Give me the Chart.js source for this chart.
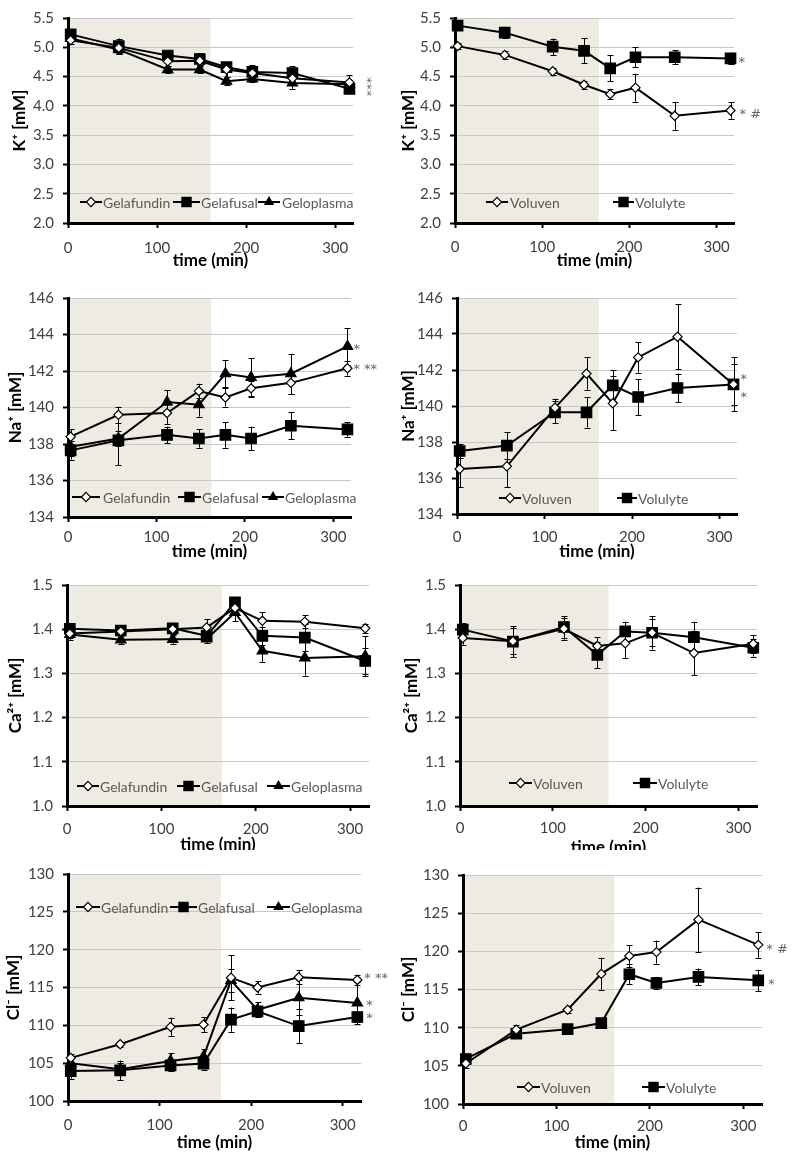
<!DOCTYPE html>
<html><head><meta charset="utf-8">
<script src="https://cdn.jsdelivr.net/npm/chart.js@4.4.1/dist/chart.umd.min.js"></script>
<style>
html,body{margin:0;padding:0;background:#fff;}
#wrap{position:relative;width:796px;height:1160px;overflow:hidden;background:#fff;}
canvas{position:absolute;}
</style></head><body><div id="wrap"></div>
<script>
// ---------- DATA ----------
const times = [3, 57, 112, 148, 178, 207, 252, 316];
const xTicks = ['0', '100', '200', '300'];

const kTicks  = ['2.0','2.5','3.0','3.5','4.0','4.5','5.0','5.5'];
const naTicks = ['134','136','138','140','142','144','146'];
const caTicks = ['1.0','1.1','1.2','1.3','1.4','1.5'];
const clTicks = ['100','105','110','115','120','125','130'];

// K+
const kGelafundin    = [5.12, 4.99, 4.76, 4.77, 4.62, 4.56, 4.47, 4.40];
const kGelafundinErr = [0.06, 0.10, 0.08, 0.08, 0.12, 0.10, 0.08, 0.12];
const kGelafusal     = [5.22, 5.02, 4.86, 4.80, 4.66, 4.58, 4.56, 4.29];
const kGelafusalErr  = [0.05, 0.13, 0.05, 0.10, 0.08, 0.12, 0.12, 0.06];
const kGeloplasma    = [5.15, 4.96, 4.62, 4.62, 4.42, 4.46, 4.39, 4.37];
const kGeloplasmaErr = [0.05, 0.06, 0.06, 0.06, 0.07, 0.06, 0.10, 0.07];
const kVoluven       = [5.02, 4.87, 4.59, 4.36, 4.20, 4.31, 3.83, 3.92];
const kVoluvenErr    = [0.05, 0.07, 0.06, 0.07, 0.09, 0.24, 0.24, 0.14];
const kVolulyte      = [5.37, 5.25, 5.01, 4.94, 4.64, 4.83, 4.83, 4.81];
const kVolulyteErr   = [0.08, 0.10, 0.14, 0.21, 0.22, 0.17, 0.12, 0.10];

// Na+
const naGelafundin    = [138.4, 139.6, 139.7, 140.9, 140.55, 141.05, 141.35, 142.15];
const naGelafundinErr = [0.4, 0.45, 0.6, 0.4, 0.5, 0.4, 0.6, 0.4];
const naGelafusal     = [137.65, 138.2, 138.5, 138.3, 138.5, 138.3, 139.0, 138.8];
const naGelafusalErr  = [0.5, 1.35, 0.45, 0.5, 0.7, 0.65, 0.75, 0.4];
const naGeloplasma    = [137.85, 138.3, 140.3, 140.15, 141.85, 141.65, 141.85, 143.35];
const naGeloplasmaErr = [0.5, 0.4, 0.65, 0.65, 0.75, 1.05, 1.1, 1.0];
const naVoluven       = [136.5, 136.65, 139.9, 141.8, 140.15, 142.7, 143.85, 141.2];
const naVoluvenErr    = [1.0, 1.15, 0.5, 0.9, 1.5, 0.85, 1.8, 1.15];
const naVolulyte      = [137.5, 137.8, 139.65, 139.65, 141.15, 140.5, 141.0, 141.2];
const naVolulyteErr   = [0.4, 0.75, 0.6, 0.85, 0.85, 1.0, 0.8, 1.5];

// Ca2+
const caGelafundin    = [1.390, 1.395, 1.400, 1.404, 1.448, 1.419, 1.417, 1.402];
const caGelafundinErr = [0.010, 0.010, 0.010, 0.018, 0.015, 0.020, 0.015, 0.010];
const caGelafusal     = [1.401, 1.397, 1.402, 1.385, 1.461, 1.385, 1.381, 1.328];
const caGelafusalErr  = [0.010, 0.010, 0.010, 0.010, 0.010, 0.020, 0.030, 0.030];
const caGeloplasma    = [1.388, 1.376, 1.377, 1.378, 1.438, 1.351, 1.335, 1.339];
const caGeloplasmaErr = [0.012, 0.010, 0.010, 0.010, 0.020, 0.025, 0.040, 0.045];
const caVoluven       = [1.380, 1.373, 1.401, 1.362, 1.368, 1.392, 1.346, 1.367];
const caVoluvenErr    = [0.015, 0.030, 0.025, 0.020, 0.033, 0.030, 0.050, 0.020];
const caVolulyte      = [1.399, 1.372, 1.405, 1.342, 1.395, 1.392, 1.382, 1.358];
const caVolulyteErr   = [0.015, 0.035, 0.025, 0.030, 0.022, 0.038, 0.035, 0.020];

// Cl-
const clGelafundin    = [105.7, 107.5, 109.8, 110.1, 116.3, 115.0, 116.35, 116.0];
const clGelafundinErr = [0.5, 0.3, 1.2, 1.0, 3.0, 0.8, 0.9, 0.7];
const clGelafusal     = [103.95, 104.05, 104.7, 104.95, 110.75, 111.85, 109.9, 111.1];
const clGelafusalErr  = [1.0, 1.3, 0.7, 0.8, 1.6, 0.6, 2.3, 0.6];
const clGeloplasma    = [105.0, 104.2, 105.3, 105.85, 115.95, 112.05, 113.65, 112.95];
const clGeloplasmaErr = [0.8, 0.8, 1.0, 1.0, 1.5, 1.0, 2.3, 2.8];
const clVoluven       = [105.3, 109.75, 112.35, 117.05, 119.4, 119.9, 124.15, 120.85];
const clVoluvenErr    = [0.6, 0.6, 0.4, 2.1, 1.4, 1.5, 4.2, 1.7];
const clVolulyte      = [105.9, 109.2, 109.8, 110.6, 117.0, 115.85, 116.65, 116.2];
const clVolulyteErr   = [0.3, 0.3, 0.3, 0.3, 1.3, 0.8, 1.1, 1.4];

const gelNames = ['Gelafundin', 'Gelafusal', 'Geloplasma'];
const hesNames = ['Voluven', 'Volulyte'];

// ---------- STYLE ----------
const FONT = "Lato, 'Open Sans', 'DejaVu Sans', sans-serif";
const NOTE_FONT = "'DejaVu Sans', sans-serif";
Chart.defaults.font.family = FONT;
const SHADE = '#eeebe2';
const markerStyles = {
  diamond:  {pointStyle:'rectRot',  pointRadius:4.6, bg:'#ffffff'},
  square:   {pointStyle:'rect',     pointRadius:7.4, bg:'#000000'},
  triangle: {pointStyle:'triangle', pointRadius:6.0, bg:'#000000'}
};
const gelMarkers = ['diamond', 'square', 'triangle'];
const hesMarkers = ['diamond', 'square'];

function drawMarker(ctx, kind, x, y) {
  ctx.save();
  ctx.lineWidth = 1.2; ctx.strokeStyle = '#000';
  ctx.beginPath();
  if (kind === 'diamond') {
    const r = markerStyles.diamond.pointRadius;
    ctx.moveTo(x, y - r); ctx.lineTo(x + r, y); ctx.lineTo(x, y + r); ctx.lineTo(x - r, y); ctx.closePath();
    ctx.fillStyle = '#fff'; ctx.fill(); ctx.stroke();
  } else if (kind === 'square') {
    const s = markerStyles.square.pointRadius * Math.SQRT1_2;
    ctx.rect(x - s, y - s, 2 * s, 2 * s);
    ctx.fillStyle = '#000'; ctx.fill();
  } else {
    const r = markerStyles.triangle.pointRadius;
    ctx.moveTo(x, y - r);
    ctx.lineTo(x + r * Math.sin(2 * Math.PI / 3), y - r * Math.cos(2 * Math.PI / 3));
    ctx.lineTo(x + r * Math.sin(4 * Math.PI / 3), y - r * Math.cos(4 * Math.PI / 3));
    ctx.closePath(); ctx.fillStyle = '#000'; ctx.fill();
  }
  ctx.restore();
}

// ---------- PANELS ----------
const panels = [
  {box:[0,0,398,280], area:[68,15,353,223], ymin:2, ymax:5.5, step:0.5, ticks:kTicks, ytitle:'K\u207A [mM]',
   ytx:20, xly:248, xty:260.5, shade:160,
   names:gelNames, markers:gelMarkers, vals:[kGelafundin,kGelafusal,kGeloplasma], errs:[kGelafundinErr,kGelafusalErr,kGeloplasmaErr],
   legend:{y:202, items:[[80,102,103],[173,200,201],[258,280,282]]},
   notes:[{text:'***', ds:1, dx:17, dy:-2, rot:true}]},
  {box:[398,0,398,280], area:[455,17,734,223], ymin:2, ymax:5.5, step:0.5, ticks:kTicks, ytitle:'K\u207A [mM]',
   ytx:408, xly:247, xty:260.5, shade:165,
   names:hesNames, markers:hesMarkers, vals:[kVoluven,kVolulyte], errs:[kVoluvenErr,kVolulyteErr],
   legend:{y:202, items:[[486,508,510],[613,634,635]]},
   notes:[{text:'*', ds:1, dx:8, dy:4}, {text:'* #', ds:0, dx:9, dy:4}]},
  {box:[0,280,398,280], area:[68,295,351,517], ymin:134, ymax:146, step:2, ticks:naTicks, ytitle:'Na\u207A [mM]',
   ytx:16, xly:537, xty:552, shade:162,
   names:gelNames, markers:gelMarkers, vals:[naGelafundin,naGelafusal,naGeloplasma], errs:[naGelafundinErr,naGelafusalErr,naGeloplasmaErr],
   legend:{y:497, items:[[72,100,103],[178,201,202],[262,284,285]]},
   notes:[{text:'*', ds:2, dx:6, dy:3}, {text:'* **', ds:0, dx:6, dy:1}]},
  {box:[398,280,398,280], area:[457,294,737,514], ymin:134, ymax:146, step:2, ticks:naTicks, ytitle:'Na\u207A [mM]',
   ytx:406, xly:537, xty:552, shade:162,
   names:hesNames, markers:hesMarkers, vals:[naVoluven,naVolulyte], errs:[naVoluvenErr,naVolulyteErr],
   legend:{y:498, items:[[499,521,522],[617,637,638]]},
   notes:[{text:'*', ds:0, dx:7, dy:-5}, {text:'*', ds:1, dx:7, dy:13}]},
  {box:[0,560,398,290], area:[67,585,369,806], ymin:1.0, ymax:1.5, step:0.1, ticks:caTicks, ytitle:'Ca\u00B2\u207A [mM]',
   ytx:16, xly:829, xty:845, shade:164,
   names:gelNames, markers:gelMarkers, vals:[caGelafundin,caGelafusal,caGeloplasma], errs:[caGelafundinErr,caGelafusalErr,caGeloplasmaErr],
   legend:{y:786, items:[[77,99,100],[177,200,201],[267,290,291]]},
   notes:[]},
  {box:[398,560,398,290], area:[460,585,757,806], ymin:1.0, ymax:1.5, step:0.1, ticks:caTicks, ytitle:'Ca\u00B2\u207A [mM]',
   ytx:412, xly:828, xty:848, shade:160,
   names:hesNames, markers:hesMarkers, vals:[caVoluven,caVolulyte], errs:[caVoluvenErr,caVolulyteErr],
   legend:{y:783, items:[[509,532,533],[633,657,658]]},
   notes:[]},
  {box:[0,850,398,310], area:[68,874,361,1101], ymin:100, ymax:130, step:5, ticks:clTicks, ytitle:'Cl\u207B [mM]',
   ytx:14, xly:1125, xty:1143, shade:167,
   names:gelNames, markers:gelMarkers, vals:[clGelafundin,clGelafusal,clGeloplasma], errs:[clGelafundinErr,clGelafusalErr,clGeloplasmaErr],
   legend:{y:907, items:[[76,100,101],[170,197,198],[267,290,291]]},
   notes:[{text:'* **', ds:0, dx:7, dy:-1}, {text:'*', ds:2, dx:9, dy:3}, {text:'*', ds:1, dx:9, dy:2}]},
  {box:[398,850,398,310], area:[463,875,762,1104], ymin:100, ymax:130, step:5, ticks:clTicks, ytitle:'Cl\u207B [mM]',
   ytx:408, xly:1126, xty:1143, shade:162,
   names:hesNames, markers:hesMarkers, vals:[clVoluven,clVolulyte], errs:[clVoluvenErr,clVolulyteErr],
   legend:{y:1087, items:[[517,540,541],[642,665,666]]},
   notes:[{text:'* #', ds:0, dx:8, dy:5}, {text:'*', ds:1, dx:10, dy:4}]}
];

const TICK_FS = 15, TITLE_FS = 17, LEG_FS = 14;

function makePanel(p) {
  const [bx, by, bw, bh] = p.box;
  const [L, T, R, B] = p.area;
  const cv = document.createElement('canvas');
  cv.width = bw; cv.height = bh;
  cv.style.left = bx + 'px'; cv.style.top = by + 'px';
  cv.style.width = bw + 'px'; cv.style.height = bh + 'px';
  document.getElementById('wrap').appendChild(cv);

  const datasets = p.vals.map((v, i) => {
    const m = markerStyles[p.markers[i]];
    return {
      label: p.names[i],
      data: times.map((t, j) => ({x: t, y: v[j]})),
      errors: p.errs[i],
      borderColor: '#000', borderWidth: 2,
      pointStyle: m.pointStyle, pointRadius: m.pointRadius,
      pointBackgroundColor: m.bg, pointBorderColor: '#000', pointBorderWidth: 1.2,
      tension: 0, clip: false, fill: false
    };
  });

  const local = {
    id: 'local',
    beforeDraw(chart) {
      const {ctx, chartArea: a, scales: {x}} = chart;
      const x0 = x.getPixelForValue(0), x1 = x.getPixelForValue(p.shade);
      ctx.save(); ctx.fillStyle = SHADE;
      ctx.fillRect(x0, a.top, x1 - x0, a.bottom - a.top);
      ctx.restore();
    },
    beforeDatasetsDraw(chart) {
      const {ctx, scales: {x, y}} = chart;
      ctx.save(); ctx.strokeStyle = '#000'; ctx.lineWidth = 1;
      chart.data.datasets.forEach(ds => {
        ds.data.forEach((pt, j) => {
          const e = ds.errors[j];
          const px = Math.round(x.getPixelForValue(pt.x)) + 0.5;
          const y0 = y.getPixelForValue(pt.y - e), y1 = y.getPixelForValue(pt.y + e);
          ctx.beginPath();
          ctx.moveTo(px, y0); ctx.lineTo(px, y1);
          ctx.moveTo(px - 3, Math.round(y0) + 0.5); ctx.lineTo(px + 3, Math.round(y0) + 0.5);
          ctx.moveTo(px - 3, Math.round(y1) + 0.5); ctx.lineTo(px + 3, Math.round(y1) + 0.5);
          ctx.stroke();
        });
      });
      ctx.restore();
    },
    afterDraw(chart) {
      const {ctx, scales: {x, y}} = chart;
      // legend
      ctx.save();
      ctx.font = `${LEG_FS}px ${FONT}`;
      ctx.textBaseline = 'middle'; ctx.textAlign = 'left';
      const ly = p.legend.y - by;
      p.legend.items.forEach((it, i) => {
        const [a0, a1, tx] = it.map(v => v - bx);
        ctx.strokeStyle = '#000'; ctx.lineWidth = 2;
        ctx.beginPath(); ctx.moveTo(a0, ly); ctx.lineTo(a1, ly); ctx.stroke();
        drawMarker(ctx, p.markers[i], (a0 + a1) / 2, ly);
        ctx.fillStyle = '#595959';
        ctx.fillText(p.names[i], tx, ly + 1);
      });
      // significance notes
      ctx.fillStyle = '#666666';
      p.notes.forEach(n => {
        const ds = chart.data.datasets[n.ds];
        const last = ds.data[ds.data.length - 1];
        const px = x.getPixelForValue(last.x) + n.dx;
        const py = y.getPixelForValue(last.y) + n.dy;
        ctx.save();
        ctx.translate(px, py);
        if (n.rot) { ctx.rotate(Math.PI / 2); ctx.textAlign = 'center'; }
        ctx.font = `13px ${NOTE_FONT}`;
        ctx.fillText(n.text, 0, 0);
        ctx.restore();
      });
      ctx.restore();
    }
  };

  const tickLH = TICK_FS * 1.2, titleLH = TITLE_FS * 1.2;
  const xAxisH = by + bh - B;
  const xTickPad = (p.xly - B) - 5 - tickLH / 2;
  const xTitlePadB = (by + bh - p.xty) - titleLH / 2;
  const yTitlePadT = Math.max(0, p.ytx - bx - titleLH / 2);

  new Chart(cv, {
    type: 'line',
    data: {datasets},
    options: {
      responsive: false, animation: false, devicePixelRatio: 1,
      layout: {padding: {left: 0, top: T - by, right: bx + bw - R, bottom: 0}},
      plugins: {legend: {display: false}, tooltip: {enabled: false}},
      elements: {line: {borderJoinStyle: 'miter'}},
      scales: {
        x: {
          type: 'linear', min: 0, max: 320,
          ticks: {stepSize: 100, includeBounds: false, padding: xTickPad, color: '#404040',
                  font: {size: TICK_FS}, maxRotation: 0,
                  callback: (v, i) => xTicks[i]},
          grid: {drawOnChartArea: false, drawTicks: true, tickLength: 5, tickColor: '#000', tickWidth: 2},
          border: {display: true, color: '#000', width: 3},
          title: {display: true, text: 'time (min)', color: '#000',
                  font: {size: TITLE_FS, weight: 'bold'}, padding: {top: 0, bottom: xTitlePadB}},
          afterFit: s => { s.height = xAxisH; }
        },
        y: {
          type: 'linear', min: p.ymin, max: p.ymax,
          ticks: {stepSize: p.step, padding: 9, color: '#404040', font: {size: TICK_FS},
                  callback: (v, i) => p.ticks[i]},
          grid: {color: '#c8c8c8', lineWidth: 1, tickLength: 5, tickColor: '#000', tickWidth: 2},
          border: {display: true, color: '#000', width: 3},
          title: {display: true, text: p.ytitle, color: '#000',
                  font: {size: TITLE_FS, weight: 'bold'}, padding: {top: yTitlePadT, bottom: 0}},
          afterFit: s => { s.width = L - bx; }
        }
      }
    },
    plugins: [local]
  });
}

panels.forEach(makePanel);
</script>
</body></html>
